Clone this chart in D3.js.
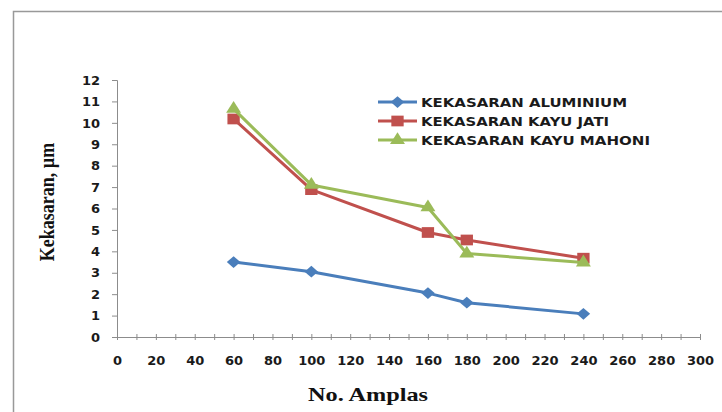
<!DOCTYPE html>
<html><head><meta charset="utf-8">
<script src="https://cdn.jsdelivr.net/npm/d3@7"></script>
<style>body{margin:0;background:#fff}svg{display:block}</style>
</head><body>
<svg id="c" width="722" height="412"></svg>
<script>
const amplas = [60, 100, 160, 180, 240];
const aluminium = [3.5, 3.05, 2.05, 1.6, 1.08];
const kayuJati = [10.18, 6.88, 4.88, 4.53, 3.68];
const kayuMahoni = [10.65, 7.1, 6.05, 3.9, 3.48];
const seriesNames = ["KEKASARAN ALUMINIUM", "KEKASARAN KAYU JATI", "KEKASARAN KAYU MAHONI"];
const seriesColors = ["#4A7EBB", "#C0504D", "#9BBB59"];
const seriesSymbols = [d3.symbolDiamond2, d3.symbolSquare, d3.symbolTriangle];
const xTicks = d3.range(0, 301, 20);
const yTicks = d3.range(0, 13, 1);

const svg = d3.select("#c");
const x = d3.scaleLinear().domain([0, 300]).range([117, 700]);
const y = d3.scaleLinear().domain([0, 12]).range([337, 80]);

// outer border
svg.append("path").attr("d", "M13.5,420 V11.5 H730").attr("fill", "none").attr("stroke", "#999").attr("stroke-width", 1.5);

const axisColor = "#8c8c8c";
// x axis
const xa = svg.append("g").attr("transform", "translate(0,337)")
  .call(d3.axisBottom(x).tickValues(d3.range(0, 301, 10)).tickSize(3).tickFormat(""));
xa.select(".domain").attr("stroke", axisColor);
xa.selectAll(".tick line").attr("stroke", axisColor).attr("y1", -3).attr("y2", 3);
const xl = svg.append("g").attr("transform", "translate(0,337)")
  .call(d3.axisBottom(x).tickValues(xTicks).tickSize(0).tickPadding(19).tickFormat(d3.format("d")));
xl.select(".domain").remove();
xl.selectAll("text").attr("font-family", "DejaVu Sans").attr("font-weight", "bold").attr("font-size", 13).attr("fill", "#1a1a1a");

// y axis
const ya = svg.append("g").attr("transform", "translate(117,0)")
  .call(d3.axisLeft(y).tickValues(yTicks).tickSize(5).tickPadding(12).tickFormat(d3.format("d")));
ya.select(".domain").attr("stroke", axisColor);
ya.selectAll(".tick line").attr("stroke", axisColor);
ya.selectAll("text").attr("font-family", "DejaVu Sans").attr("font-weight", "bold").attr("font-size", 13).attr("fill", "#1a1a1a");

// axis titles
svg.append("text").attr("x", 368).attr("y", 401).attr("text-anchor", "middle")
  .attr("font-family", "Liberation Serif").attr("font-weight", "bold").attr("font-size", 19)
  .attr("textLength", 120).attr("lengthAdjust", "spacingAndGlyphs")
  .attr("fill", "#111").text("No. Amplas");
svg.append("text").attr("transform", "translate(54,202) rotate(-90) scale(1,1.2)").attr("text-anchor", "middle")
  .attr("font-family", "Liberation Serif").attr("font-weight", "bold").attr("font-size", 18)
  .attr("fill", "#111").text("Kekasaran, µm");

// series
const allSeries = [aluminium, kayuJati, kayuMahoni];
const line = d3.line().x(d => x(d[0])).y(d => y(d[1]));
const symSizes = [88, 115, 80];
const symStretch = [1.15, 1.15, 1.1];
allSeries.forEach((vals, i) => {
  const pts = amplas.map((a, j) => [a, vals[j]]);
  svg.append("path").datum(pts).attr("d", line).attr("fill", "none")
    .attr("stroke", seriesColors[i]).attr("stroke-width", 3).attr("stroke-linejoin", "round");
  svg.selectAll(null).data(pts).enter().append("path")
    .attr("transform", d => `translate(${x(d[0])},${y(d[1])}) scale(${symStretch[i]},1)`)
    .attr("d", d3.symbol().type(seriesSymbols[i]).size(symSizes[i]))
    .attr("fill", seriesColors[i]);
});

// legend
const legendY = [102, 121, 140];
const legendLen = [206, 188, 229];
seriesNames.forEach((name, i) => {
  const g = svg.append("g").attr("transform", `translate(378,${legendY[i]})`);
  g.append("line").attr("x1", 0).attr("x2", 39).attr("stroke", seriesColors[i]).attr("stroke-width", 3);
  g.append("path").attr("transform", `translate(19.5,0) scale(${symStretch[i]},1)`)
    .attr("d", d3.symbol().type(seriesSymbols[i]).size(symSizes[i])).attr("fill", seriesColors[i]);
  g.append("text").attr("x", 43).attr("y", 4.5)
    .attr("font-family", "DejaVu Sans").attr("font-weight", "bold").attr("font-size", 12)
    .attr("textLength", legendLen[i]).attr("lengthAdjust", "spacingAndGlyphs")
    .attr("fill", "#1a1a1a").text(name);
});
</script>
</body></html>
